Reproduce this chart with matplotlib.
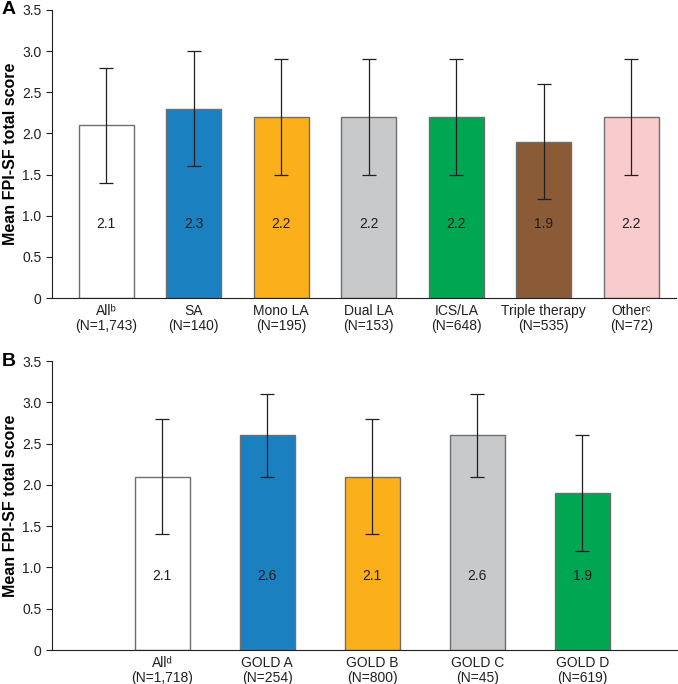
import matplotlib.pyplot as plt

plt.rcParams['font.family'] = ['Liberation Sans', 'DejaVu Sans']

# panel A: by treatment
a_labels = ['Allᵇ\n(N=1,743)', 'SA\n(N=140)', 'Mono LA\n(N=195)', 'Dual LA\n(N=153)',
            'ICS/LA\n(N=648)', 'Triple therapy\n(N=535)', 'Otherᶜ\n(N=72)']
a_means = [2.1, 2.3, 2.2, 2.2, 2.2, 1.9, 2.2]
a_sd = [0.7, 0.7, 0.7, 0.7, 0.7, 0.7, 0.7]
a_colors = ['#ffffff', '#1b80c0', '#fbaf1b', '#c8c9ca', '#00a651', '#8b5a36', '#f8cbcc']

# panel B: by GOLD group
b_labels = ['Allᵈ\n(N=1,718)', 'GOLD A\n(N=254)', 'GOLD B\n(N=800)',
            'GOLD C\n(N=45)', 'GOLD D\n(N=619)']
b_means = [2.1, 2.6, 2.1, 2.6, 1.9]
b_sd = [0.7, 0.5, 0.7, 0.5, 0.7]
b_colors = ['#ffffff', '#1b80c0', '#fbaf1b', '#c8c9ca', '#00a651']

fig = plt.figure(figsize=(6.78, 6.84), dpi=100)
ax_a = fig.add_axes([0.0767, 0.5643, 0.9203, 0.4211])
ax_b = fig.add_axes([0.0767, 0.0497, 0.9218, 0.4225])


def draw(ax, labels, means, sd, colors, width, xlim, letter):
    x = range(len(labels))
    ax.bar(x, means, width, color=colors, edgecolor='#6d6e70', linewidth=1.0,
           yerr=sd, error_kw=dict(ecolor='#231f20', elinewidth=0.9, capsize=5, capthick=0.9))
    for i, m in enumerate(means):
        ax.text(i, 0.9, f'{m:.1f}', ha='center', va='center', fontsize=10, color='#231f20')
    ax.set_xticks(list(x))
    ax.set_xticklabels(labels, fontsize=10, color='#231f20', linespacing=1.1)
    ax.tick_params(axis='x', length=0, pad=4)
    ax.tick_params(axis='y', labelsize=10, length=4, colors='#231f20')
    ax.set_ylim(0, 3.5)
    ax.set_xlim(*xlim)
    ax.set_yticks([0, 0.5, 1.0, 1.5, 2.0, 2.5, 3.0, 3.5])
    ax.set_yticklabels(['0', '0.5', '1.0', '1.5', '2.0', '2.5', '3.0', '3.5'])
    ax.spines['top'].set_visible(False)
    ax.spines['right'].set_visible(False)
    ax.spines['left'].set_color('#231f20')
    ax.spines['bottom'].set_color('#231f20')
    ax.set_ylabel('Mean FPI-SF total score', fontsize=11.5, fontweight='bold')
    ax.yaxis.set_label_coords(-0.055, 0.5)
    ax.text(-0.081, 1.0, letter, transform=ax.transAxes, fontsize=14, fontweight='bold',
            ha='left', va='center')


draw(ax_a, a_labels, a_means, a_sd, a_colors, 0.63, (-0.62, 6.51), 'A')
draw(ax_b, b_labels, b_means, b_sd, b_colors, 0.52, (-1.05, 4.9), 'B')

plt.savefig('out.png', dpi=100)
